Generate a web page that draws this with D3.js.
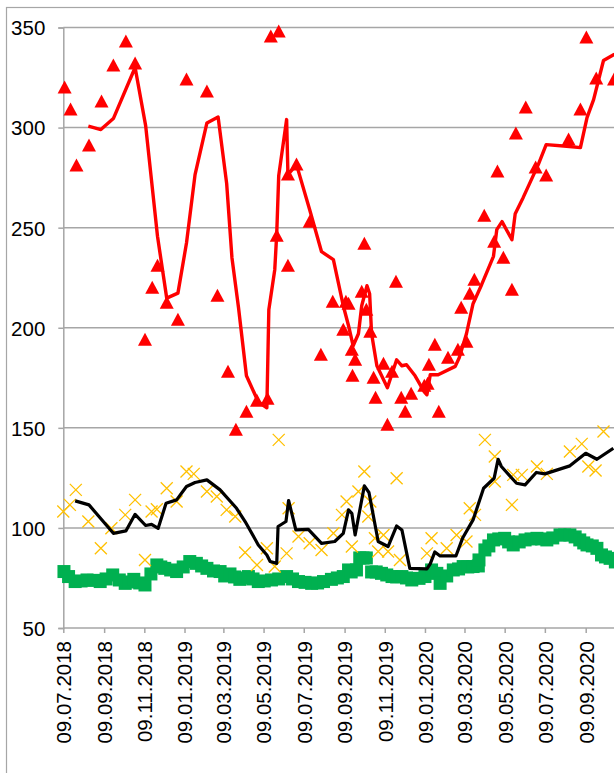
<!DOCTYPE html>
<html lang="en">
<head>
<meta charset="utf-8" />
<script src="https://cdn.jsdelivr.net/npm/d3@7"></script>
<style>
  body { margin: 0; background: #fff; }
  svg { display: block; }
  text { font-family: "Liberation Sans", Arial, sans-serif; font-size: 20.5px; fill: #000; }
</style>
</head>
<body>
<script>
// all x positions are days counted from 09.07.2018
var startDate = "09.07.2018";

var tickLabels = ["09.07.2018", "09.09.2018", "09.11.2018", "09.01.2019", "09.03.2019",
  "09.05.2019", "09.07.2019", "09.09.2019", "09.11.2019", "09.01.2020", "09.03.2020",
  "09.05.2020", "09.07.2020", "09.09.2020"];
var yTicks = [50, 100, 150, 200, 250, 300, 350];

// red triangles
var redDays = [2, 11, 20, 39, 58, 76, 95, 109, 124, 135, 143, 157, 174, 187, 218, 234, 250,
  262, 278, 294, 310, 315, 327, 324, 341, 341, 354, 374, 391, 409, 425, 429, 433, 438, 443,
  439, 453, 457, 460, 466, 471, 474, 486, 492, 499, 505, 513, 519, 528, 548, 553, 555, 564,
  570, 584, 599, 604, 612, 617, 624, 639, 654, 659, 668, 681, 687, 702, 717, 733, 767, 785,
  794, 809, 836];
var redVals = [320, 309, 281, 291, 313, 331, 343, 332, 194, 220, 231, 212.5, 204, 324, 318,
  216, 178, 149, 158, 163.5, 164.5, 345.5, 348, 246, 276.5, 231, 281.5, 253, 186.5, 213, 199,
  213, 212, 189, 184, 176, 218, 242, 209, 198, 175, 165, 182, 151.5, 178, 223, 165, 158, 167,
  171, 172, 181.5, 191.5, 158, 185, 189, 210, 193, 217, 224, 256, 243, 278, 235, 219, 297,
  310, 280, 276, 294, 309, 345, 324.5, 324];

// red moving line
var redLineDays = [38, 57, 76, 109, 125, 143, 157, 174, 187, 200, 218, 235, 248, 256, 266,
  278, 296, 309, 312, 321, 324, 327, 339, 341, 354, 374, 392, 410, 425, 433, 440, 448, 453,
  461, 465, 468, 476, 492, 499, 506, 514, 521, 534, 548, 552, 557, 569, 595, 601, 612, 622,
  635, 653, 658, 666, 681, 686, 698, 721, 733, 764, 785, 795, 805, 820, 836, 853];
var redLineVals = [300.7, 299, 304.5, 330, 301, 245.7, 214.8, 217.3, 242.3, 276.5, 302.3,
  305.3, 272, 235, 210, 176, 163, 160, 209, 229, 247, 276, 304, 276.5, 281.5, 259, 238, 234,
  211, 201, 191, 197, 211, 221, 217, 197, 181, 170, 177, 184, 181, 181.5, 176, 168, 166.5,
  176.5, 176.5, 180.7, 185, 197, 212, 221.5, 235.7, 249, 253, 244, 257, 265, 281.5, 291.5,
  290.7, 290, 305, 314, 333.5, 336.5, 338];

// orange crosses
var crossDays = [0, 10, 19, 38, 57, 73, 94, 109, 124, 134, 142, 157, 172, 187, 198, 218, 233,
  248, 261, 276, 294, 309, 321, 327, 339, 342, 357, 374, 392, 410, 423, 430, 438, 448, 457,
  466, 463, 473, 478, 486, 493, 506, 511, 552, 559, 582, 597, 612, 617, 625, 640, 655, 655,
  681, 683, 696, 719, 734, 769, 787, 797, 808, 820];
var crossVals = [108.2, 111.5, 119, 103.2, 89.8, 99.8, 106.5, 114, 84, 108.2, 109.3, 119.8,
  113.2, 128.2, 127, 118.2, 115.7, 109, 105.7, 87.7, 81.5, 89.8, 80.7, 144, 87.3, 109.8, 95.7,
  92.3, 89, 97.3, 106.5, 113.2, 90.7, 118.2, 128.2, 113.2, 105.7, 94.8, 88.2, 96.5, 88.2,
  124.8, 84, 87.3, 94.8, 89.8, 96.5, 93.2, 109.8, 106.5, 144, 135.7, 123.2, 111.5, 126.5,
  126.5, 130.7, 127, 138.2, 142, 130.7, 128.7, 148.2];

// black moving line
var blackDays = [18, 39, 76, 95, 109, 125, 134, 144, 156, 172, 187, 200, 218, 238, 263, 276,
  296, 309, 314, 324, 326, 338, 342, 353, 372, 392, 412, 425, 433, 438, 443, 457, 464, 478,
  493, 506, 514, 526, 552, 557, 564, 572, 596, 606, 622, 638, 654, 660, 665, 688, 701, 718,
  731, 769, 793, 810, 835];
var blackVals = [113.5, 111.5, 97.3, 98.5, 106.8, 101.2, 101.8, 99.8, 112.3, 114, 120.7,
  122.7, 124, 119, 109.8, 103.2, 91.5, 86.5, 83.2, 82.3, 100.7, 103.2, 113.7, 99, 99.3, 92.3,
  93.2, 97.3, 109, 107.3, 96.5, 121, 117.7, 93.2, 90.7, 101, 99, 79.8, 79.5, 82, 88, 86, 86,
  94.8, 104, 119.8, 124.8, 134.3, 130.7, 122.3, 121.5, 127.7, 127, 131, 137.3, 134.3, 139.8];

// green squares
var squareDays = [1, 8, 18, 27, 36, 46, 56, 65, 75, 85, 94, 100, 107, 116, 124, 133, 142, 148,
  154, 163, 172, 182, 192, 202, 210, 218, 228, 238, 245, 253, 260, 268, 275, 281, 288, 296,
  305, 316, 327, 339, 348, 357, 367, 377, 386, 395, 407, 416, 425, 433, 437, 445, 450, 455,
  460, 468, 475, 483, 491, 499, 506, 514, 521, 529, 540, 549, 559, 567, 572, 582, 592, 600,
  607, 614, 622, 630, 631, 640, 646, 653, 661, 670, 676, 683, 692, 701, 710, 719, 726, 734,
  743, 754, 761, 769, 777, 784, 790, 795, 803, 810, 817, 823, 830, 838];
var squareVals = [78.2, 75.7, 73.2, 73.5, 74, 73.8, 73.2, 74.5, 76.5, 74, 72.3, 73, 74.3,
  72.5, 71.5, 77, 81.5, 80.5, 79.8, 79, 78.2, 80.5, 83.2, 82.3, 81, 79.8, 78.5, 78.2, 76, 77,
  75.5, 74.3, 75, 75.7, 74.5, 73.2, 73.5, 74, 74.5, 75.7, 74.5, 73.2, 72.8, 72.3, 72.5, 73.2,
  74.3, 75, 75.7, 79, 78, 79, 85, 85, 85, 78, 78, 77.3, 76.5, 75.7, 75.5, 75.7, 75, 74, 74.8,
  75.7, 79, 77.3, 72.3, 76, 79, 79.5, 80.7, 80.5, 80.7, 81, 84, 89, 91, 94, 94.5, 94.8, 93,
  91.5, 93, 94, 94.5, 94.8, 94.5, 94, 95, 96.5, 96.5, 96.5, 95.5, 94, 92.5, 91.5, 91, 89.8,
  86.5, 85.5, 84.8, 83];

var width = 614,
    height = 773;

var parse = d3.utcParse("%d.%m.%Y");
var t0 = parse(startDate);
function toDate(n) { return d3.utcDay.offset(t0, n); }
function pairs(days, vals) {
    return days.map(function (d, i) { return { date: toDate(d), v: vals[i] }; });
}

var x = d3.scaleUtc()
    .domain([parse(tickLabels[0]), parse(tickLabels[tickLabels.length - 1])])
    .range([63.3, 585.7]);
var y = d3.scaleLinear().domain([50, 350]).range([628, 27.5]);

var svg = d3.select("body").append("svg")
    .attr("width", width)
    .attr("height", height);

// outer chart border (cropped on right and bottom)
svg.append("rect")
    .attr("x", 6.5).attr("y", 7.5)
    .attr("width", 900).attr("height", 900)
    .attr("fill", "none").attr("stroke", "#a6a6a6").attr("stroke-width", 1.2);

// y axis with gridlines
var yAxis = svg.append("g")
    .attr("transform", "translate(63.3,0)")
    .call(d3.axisLeft(y).tickValues(yTicks).tickSize(5).tickPadding(13));
yAxis.select(".domain").attr("stroke", "#a6a6a6").attr("stroke-width", 1.5);
yAxis.selectAll(".tick line").attr("stroke", "#a6a6a6").attr("stroke-width", 1.5);
yAxis.selectAll(".tick text").style("font-size", "20.5px").attr("dy", "0.36em");

svg.append("g").selectAll("line")
    .data(yTicks.slice(1))
    .enter().append("line")
    .attr("x1", 63.3).attr("x2", width)
    .attr("y1", function (d) { return y(d); })
    .attr("y2", function (d) { return y(d); })
    .attr("stroke", "#a6a6a6").attr("stroke-width", 1.5);

// x axis
var xAxis = svg.append("g")
    .attr("transform", "translate(0,628)")
    .call(d3.axisBottom(x)
        .tickValues(tickLabels.map(parse))
        .tickSize(5)
        .tickFormat(d3.utcFormat("%d.%m.%Y")));
xAxis.select(".domain").attr("d", "M63.3,0H" + width)
    .attr("stroke", "#a6a6a6").attr("stroke-width", 1.5);
xAxis.selectAll(".tick line").attr("stroke", "#a6a6a6").attr("stroke-width", 1.5);
xAxis.selectAll(".tick text")
    .style("font-size", "20.5px")
    .attr("text-anchor", "end")
    .attr("transform", "rotate(-90)")
    .attr("x", -13).attr("y", 0).attr("dy", "0.36em");
svg.selectAll(".domain").attr("fill", "none");

// green squares
svg.append("g").selectAll("rect")
    .data(pairs(squareDays, squareVals))
    .enter().append("rect")
    .attr("x", function (d) { return x(d.date) - 6.5; })
    .attr("y", function (d) { return y(d.v) - 6.5; })
    .attr("width", 13).attr("height", 13)
    .attr("fill", "#00b050");

// orange crosses
svg.append("g").selectAll("path")
    .data(pairs(crossDays, crossVals))
    .enter().append("path")
    .attr("transform", function (d) { return "translate(" + x(d.date) + "," + y(d.v) + ")"; })
    .attr("d", "M-6,-6L6,6M-6,6L6,-6")
    .attr("stroke", "#ffc000").attr("stroke-width", 1.3).attr("fill", "none");

var line = d3.line()
    .x(function (d) { return x(d.date); })
    .y(function (d) { return y(d.v); });

// black line
svg.append("path")
    .datum(pairs(blackDays, blackVals))
    .attr("d", line)
    .attr("fill", "none").attr("stroke", "#000").attr("stroke-width", 3.2)
    .attr("stroke-linejoin", "round");

// red triangles
svg.append("g").selectAll("path")
    .data(pairs(redDays, redVals))
    .enter().append("path")
    .attr("transform", function (d) { return "translate(" + x(d.date) + "," + y(d.v) + ")"; })
    .attr("d", "M0,-7L7,6L-7,6Z")
    .attr("fill", "#ff0000");

// red line
svg.append("path")
    .datum(pairs(redLineDays, redLineVals))
    .attr("d", line)
    .attr("fill", "none").attr("stroke", "#ff0000").attr("stroke-width", 3.4)
    .attr("stroke-linejoin", "round");
</script>
</body>
</html>
